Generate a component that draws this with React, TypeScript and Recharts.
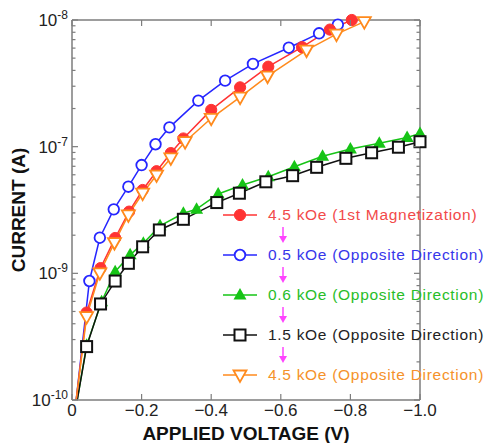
import React from "react";
import { LineChart, Line, XAxis, YAxis, Legend } from "recharts";

const FONT = "'Liberation Sans', Arial, Helvetica, sans-serif";
const AXIS = "#7d7d7d";
const MAGENTA = "#ff44ff";

// applied voltage (V) / current (A)
const redV = [-0.012, -0.042, -0.082, -0.124, -0.164, -0.203, -0.243, -0.284, -0.32, -0.4, -0.483, -0.564, -0.661, -0.741, -0.804];
const redI = [1e-10, 4.9e-10, 1.1e-9, 1.9e-9, 3.07e-9, 4.55e-9, 6.4e-9, 8.9e-9, 1.16e-8, 1.95e-8, 2.94e-8, 4.28e-8, 6.1e-8, 8.4e-8, 1.0e-7];

const blueV = [-0.012, -0.05, -0.08, -0.12, -0.162, -0.2, -0.24, -0.28, -0.363, -0.44, -0.52, -0.623, -0.71, -0.764];
const blueI = [1e-10, 8.7e-10, 1.91e-9, 3.2e-9, 4.83e-9, 7.16e-9, 1.045e-8, 1.42e-8, 2.31e-8, 3.32e-8, 4.5e-8, 6.04e-8, 7.85e-8, 9.2e-8];

const greenV = [-0.015, -0.042, -0.085, -0.124, -0.167, -0.205, -0.253, -0.32, -0.358, -0.42, -0.49, -0.564, -0.639, -0.72, -0.8, -0.883, -0.963, -1.0];
const greenI = [1e-10, 2.7e-10, 5.97e-10, 1.03e-9, 1.4e-9, 1.73e-9, 2.37e-9, 2.98e-9, 3.21e-9, 4.23e-9, 4.98e-9, 5.79e-9, 6.95e-9, 8.39e-9, 9.6e-9, 1.065e-8, 1.18e-8, 1.27e-8];

const blackV = [-0.015, -0.042, -0.082, -0.124, -0.162, -0.203, -0.251, -0.32, -0.416, -0.481, -0.557, -0.634, -0.703, -0.787, -0.861, -0.938, -1.0];
const blackI = [1e-10, 2.64e-10, 5.73e-10, 8.69e-10, 1.2e-9, 1.62e-9, 2.2e-9, 2.67e-9, 3.62e-9, 4.29e-9, 5.28e-9, 5.9e-9, 6.87e-9, 8.09e-9, 8.95e-9, 9.9e-9, 1.094e-8];

const orangeV = [-0.012, -0.042, -0.08, -0.122, -0.162, -0.203, -0.243, -0.284, -0.325, -0.4, -0.483, -0.562, -0.674, -0.76, -0.84];
const orangeI = [1e-10, 4.55e-10, 1.01e-9, 1.75e-9, 2.89e-9, 4.29e-9, 5.97e-9, 8.15e-9, 1.094e-8, 1.675e-8, 2.46e-8, 3.61e-8, 5.79e-8, 7.74e-8, 9.7e-8];

const xTicks = [0, -0.2, -0.4, -0.6, -0.8, -1.0];
const xTickLabels = ["0", "\u22120.2", "\u22120.4", "\u22120.6", "\u22120.8", "\u22121.0"];
const yMajor = [1e-10, 1e-9, 1e-8, 1e-7];
const yExpLabels = ["-10", "-9", "-7", "-8"]; // as printed on the original
const yTicks: number[] = [];
yMajor.forEach((m, k) => {
  yTicks.push(m);
  if (k < yMajor.length - 1) for (let j = 2; j <= 9; j++) yTicks.push(m * j);
});

const pts = (v: number[], i: number[]) => v.map((x, k) => ({ v: x, i: i[k] }));

const series = [
  { key: "g", data: pts(greenV, greenI), color: "#16c416", shape: "triUp" },
  { key: "k", data: pts(blackV, blackI), color: "#111111", shape: "square" },
  { key: "b", data: pts(blueV, blueI), color: "#2626ff", shape: "ring" },
  { key: "r", data: pts(redV, redI), color: "#ff3333", shape: "dot" },
  { key: "o", data: pts(orangeV, orangeI), color: "#ff8a1c", shape: "triDown" },
];

const legendRows = [
  { label: "4.5 kOe (1st Magnetization)", color: "#ff3333", text: "#f24a4a", shape: "dot" },
  { label: "0.5 kOe (Opposite Direction)", color: "#2626ff", text: "#3636ea", shape: "ring" },
  { label: "0.6 kOe (Opposite Direction)", color: "#16c416", text: "#28bd28", shape: "triUp" },
  { label: "1.5 kOe (Opposite Direction)", color: "#111111", text: "#222222", shape: "square" },
  { label: "4.5 kOe (Opposite Direction)", color: "#ff8a1c", text: "#f5922a", shape: "triDown" },
];

function Marker({ shape, color, cx, cy }: any) {
  switch (shape) {
    case "dot":
      return <circle cx={cx} cy={cy} r={5.6} fill={color} stroke={color} strokeWidth={1} />;
    case "ring":
      return <circle cx={cx} cy={cy} r={5.3} fill="#fff" stroke={color} strokeWidth={1.8} />;
    case "triUp":
      return <polygon points={`${cx},${cy - 7} ${cx - 6.5},${cy + 4.5} ${cx + 6.5},${cy + 4.5}`} fill={color} />;
    case "square":
      return <rect x={cx - 5.5} y={cy - 5.5} width={11} height={11} fill="#fff" stroke={color} strokeWidth={2} />;
    default:
      return (
        <polygon
          points={`${cx - 6.5},${cy - 4.5} ${cx + 6.5},${cy - 4.5} ${cx},${cy + 7}`}
          fill="#fff"
          stroke={color}
          strokeWidth={1.8}
        />
      );
  }
}

const makeDot = (shape: string, color: string) => (p: any) => {
  const { cx, cy, payload, index } = p;
  if (cx == null || cy == null || payload.i <= 1e-10) return <g key={`d${index}`} />;
  return (
    <g key={`d${index}`}>
      <Marker shape={shape} color={color} cx={cx} cy={cy} />
    </g>
  );
};

const isMajor = (v: number) => Math.abs(Math.log10(v) - Math.round(Math.log10(v))) < 1e-6;

function LeftTick(p: any) {
  const { x, y, payload } = p;
  const major = isMajor(payload.value);
  const k = Math.round(Math.log10(payload.value)) + 10;
  return (
    <g>
      <line x1={x} x2={x + (major ? 6 : 3.5)} y1={y} y2={y} stroke={AXIS} strokeWidth={1.2} />
      {major && (
        <text x={x - 4} y={y + 6} textAnchor="end" fontFamily={FONT} fill="#222">
          <tspan fontSize={17}>10</tspan>
          <tspan fontSize={12} dy={-7}>{yExpLabels[k]}</tspan>
        </text>
      )}
    </g>
  );
}

function RightTick(p: any) {
  const { x, y, payload } = p;
  const major = isMajor(payload.value);
  return <line x1={x} x2={x - (major ? 6 : 3.5)} y1={y} y2={y} stroke={AXIS} strokeWidth={1.2} />;
}

function BottomTick(p: any) {
  const { x, y, index } = p;
  return (
    <g>
      <line x1={x} x2={x} y1={y} y2={y - 6} stroke={AXIS} strokeWidth={1.2} />
      <text x={x} y={y + 16} textAnchor="middle" fontFamily={FONT} fontSize={17} fill="#222">
        {xTickLabels[index]}
      </text>
    </g>
  );
}

function TopTick(p: any) {
  const { x, y } = p;
  return <line x1={x} x2={x} y1={y} y2={y + 6} stroke={AXIS} strokeWidth={1.2} />;
}

function LegendBox() {
  return (
    <div
      style={{
        position: "relative",
        fontFamily: FONT,
        fontSize: 15.5,
        letterSpacing: 0.7,
        whiteSpace: "nowrap",
      }}
    >
      {legendRows.map((r, k) => (
        <div key={k} style={{ height: 40, display: "flex", alignItems: "center" }}>
          <svg width={34} height={16} style={{ overflow: "visible", marginRight: 11 }}>
            <line x1={0} x2={34} y1={8} y2={8} stroke={r.color} strokeWidth={1.5} />
            <Marker shape={r.shape} color={r.color} cx={17} cy={8} />
          </svg>
          <span style={{ color: r.text }}>{r.label}</span>
        </div>
      ))}
      <svg width={80} height={200} style={{ position: "absolute", left: 0, top: 0, overflow: "visible" }}>
        {legendRows.slice(1).map((_, k) => {
          const y0 = 20 + 40 * k + 12;
          const y1 = 20 + 40 * (k + 1) - 12;
          return (
            <g key={k}>
              <line x1={60} x2={60} y1={y0} y2={y1 - 6} stroke={MAGENTA} strokeWidth={1.5} />
              <polygon points={`56,${y1 - 7} 64,${y1 - 7} 60,${y1}`} fill={MAGENTA} />
            </g>
          );
        })}
      </svg>
    </div>
  );
}

export default function App() {
  const axisLine = { stroke: AXIS, strokeWidth: 1.5 };
  return (
    <div style={{ position: "fixed", left: 0, top: 0, width: 490, height: 443, background: "#fff" }}>
      <LineChart width={490} height={443} margin={{ top: 16, right: 60, bottom: 13, left: 12 }}>
        <XAxis
          xAxisId="b"
          type="number"
          dataKey="v"
          domain={[-1, 0]}
          reversed
          ticks={xTicks}
          interval={0}
          tickSize={0}
          tickMargin={0}
          tickLine={false}
          tick={(p: any) => <BottomTick {...p} />}
          axisLine={axisLine}
          height={30}
          label={{
            content: (p: any) => (
              <text
                x={p.viewBox.x + p.viewBox.width / 2}
                y={440}
                textAnchor="middle"
                fontFamily={FONT}
                fontWeight="bold"
                fontSize={19}
                fill="#111"
              >
                APPLIED VOLTAGE (V)
              </text>
            ),
          }}
        />
        <XAxis
          xAxisId="t"
          orientation="top"
          type="number"
          dataKey="v"
          domain={[-1, 0]}
          reversed
          allowDataOverflow
          ticks={xTicks}
          interval={0}
          tickSize={0}
          tickMargin={0}
          tickLine={false}
          tick={(p: any) => <TopTick {...p} />}
          axisLine={axisLine}
          height={4}
        />
        <YAxis
          yAxisId="l"
          scale="log"
          domain={[1e-10, 1e-7]}
          ticks={yTicks}
          interval={0}
          tickSize={0}
          tickMargin={0}
          tickLine={false}
          tick={(p: any) => <LeftTick {...p} />}
          axisLine={axisLine}
          width={60}
          label={{
            content: () => (
              <text
                transform="translate(18.5 210) rotate(-90)"
                textAnchor="middle"
                dominantBaseline="central"
                fontFamily={FONT}
                fontWeight="bold"
                fontSize={19}
                fill="#111"
              >
                CURRENT (A)
              </text>
            ),
          }}
        />
        <YAxis
          yAxisId="r"
          orientation="right"
          scale="log"
          domain={[1e-10, 1e-7]}
          allowDataOverflow
          ticks={yTicks}
          interval={0}
          tickSize={0}
          tickMargin={0}
          tickLine={false}
          tick={(p: any) => <RightTick {...p} />}
          axisLine={axisLine}
          width={10}
        />
        {series.map((s) => (
          <Line
            key={s.key}
            xAxisId="b"
            yAxisId="l"
            data={s.data}
            dataKey="i"
            type="linear"
            stroke={s.color}
            strokeWidth={1.5}
            dot={makeDot(s.shape, s.color)}
            activeDot={false}
            isAnimationActive={false}
          />
        ))}
        <Legend
          layout="vertical"
          align="center"
          verticalAlign="middle"
          content={() => <LegendBox />}
          wrapperStyle={{ left: 223, top: 195 }}
        />
      </LineChart>
    </div>
  );
}
